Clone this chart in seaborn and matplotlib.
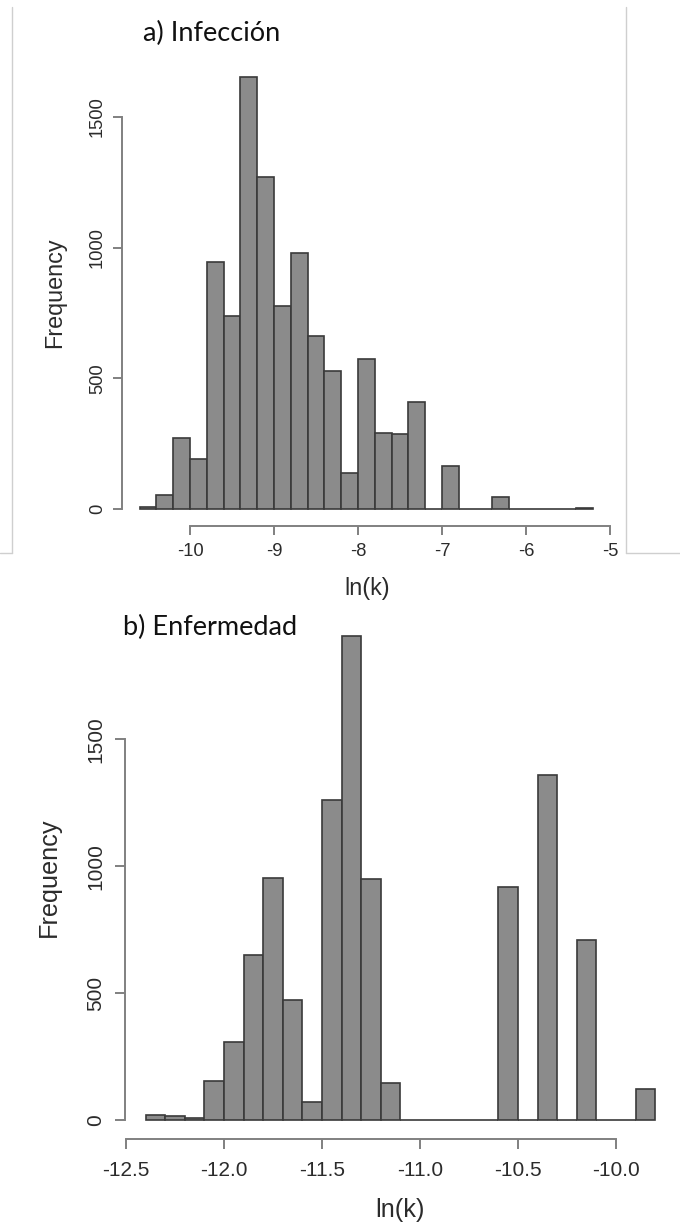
import numpy as np
import pandas as pd
import matplotlib
matplotlib.use("Agg")
import matplotlib.pyplot as plt
from matplotlib.lines import Line2D
import seaborn as sns

# ---- data -------------------------------------------------------------
# a) infection: bins of width 0.2 starting at -10.6
inf_start, inf_width = -10.6, 0.2
inf_counts = [6, 55, 271, 190, 945, 738, 1653, 1270, 776, 981, 661, 529, 139,
              574, 289, 286, 410, 0, 166, 0, 0, 45, 0, 0, 0, 0, 4]

# b) disease: bins of width 0.1 starting at -12.4
enf_start, enf_width = -12.4, 0.1
enf_counts = [18, 14, 8, 152, 309, 649, 954, 471, 73, 1262, 1905, 950, 147,
              0, 0, 0, 0, 0, 918, 0, 1357, 0, 709, 0, 0, 124]

inf_xticks = [-10, -9, -8, -7, -6, -5]
inf_xticklabels = ["-10", "-9", "-8", "-7", "-6", "-5"]
enf_xticks = [-12.5, -12.0, -11.5, -11.0, -10.5, -10.0]
enf_xticklabels = ["-12.5", "-12.0", "-11.5", "-11.0", "-10.5", "-10.0"]
yticks = [0, 500, 1000, 1500]
yticklabels = ["0", "500", "1000", "1500"]

titles = ["a) Infección", "b) Enfermedad"]
xlabel = "ln(k)"
ylabel = "Frequency"

# ---- style ------------------------------------------------------------
sns.set_theme(style="white")
plt.rcParams["font.family"] = ["Liberation Sans", "DejaVu Sans"]

W, H = 680, 1224
fig = plt.figure(figsize=(W / 100, H / 100), dpi=100)
fig.patch.set_facecolor("white")

BAR = "#8b8b8b"
EDGE = "#3a3a3a"
AXC = "#808080"
TXT = "#2b2b2b"


def px_axes(left, right, top, bottom):
    return fig.add_axes([left / W, 1 - bottom / H, (right - left) / W, (bottom - top) / H])


def hist_panel(ax, start, width, counts, xlim, ylim, xticks, xticklabels,
               tick_fs, label_fs, tick_len, xlab_xy, ylab_xy, xpad, ypad):
    n = len(counts)
    edges = [round(start + width * i, 4) for i in range(n + 1)]
    centers = [(a + b) / 2 for a, b in zip(edges[:-1], edges[1:])]
    df = pd.DataFrame({"x": centers, "count": counts})
    sns.histplot(data=df, x="x", weights="count", bins=edges, ax=ax,
                 color=BAR, edgecolor=EDGE, linewidth=1.2, alpha=1)
    ax.set_xlim(*xlim)
    ax.set_ylim(*ylim)
    for s in ("top", "right"):
        ax.spines[s].set_visible(False)
    for s in ("left", "bottom"):
        ax.spines[s].set_color(AXC)
        ax.spines[s].set_linewidth(1.4)
    ax.spines["left"].set_bounds(yticks[0], yticks[-1])
    ax.spines["bottom"].set_bounds(xticks[0], xticks[-1])
    ax.set_xticks(xticks, xticklabels)
    ax.set_yticks(yticks, yticklabels)
    ax.tick_params(axis="both", direction="out", length=tick_len, width=1.4,
                   color=AXC, labelcolor=TXT, labelsize=tick_fs, left=True, bottom=True)
    ax.tick_params(axis="x", pad=xpad)
    ax.tick_params(axis="y", pad=ypad, labelrotation=90)
    for lbl in ax.get_yticklabels():
        lbl.set_va("center")
    ax.set_xlabel(xlabel, fontsize=label_fs, color=TXT)
    ax.set_ylabel(ylabel, fontsize=label_fs, color=TXT)
    ax.xaxis.set_label_coords(xlab_xy[0] / W, 1 - xlab_xy[1] / H, transform=fig.transFigure)
    ax.yaxis.set_label_coords(ylab_xy[0] / W, 1 - ylab_xy[1] / H, transform=fig.transFigure)
    ax.xaxis.label.set_va("center")
    ax.yaxis.label.set_va("center")
    ax.set_facecolor("none")


# top panel
ax1 = px_axes(121.5, 611.3, 59.7, 526.3)
hist_panel(ax1, inf_start, inf_width, inf_counts,
           (-10.816, -4.984), (-66.1, 1718.9), inf_xticks, inf_xticklabels,
           tick_fs=13.2, label_fs=16.8, tick_len=6.2,
           xlab_xy=(367, 588), ylab_xy=(55, 293), xpad=6, ypad=5)

# bottom panel
ax2 = px_axes(125.2, 675.6, 617.0, 1139.4)
hist_panel(ax2, enf_start, enf_width, enf_counts,
           (-12.504, -9.696), (-76.2, 1981.2), enf_xticks, enf_xticklabels,
           tick_fs=15.0, label_fs=18.2, tick_len=7.2,
           xlab_xy=(400, 1210), ylab_xy=(49, 877), xpad=8, ypad=7)

# panel titles
fig.text(143 / W, 1 - 33 / H, titles[0], fontfamily=["Lato", "DejaVu Sans"],
         fontsize=19.5, color="#111111", ha="left", va="center")
fig.text(123 / W, 1 - 627 / H, titles[1], fontfamily=["Lato", "DejaVu Sans"],
         fontsize=19.5, color="#111111", ha="left", va="center")

# thin frame around the upper panel
frame = dict(color="#cfcfcf", linewidth=1.0, transform=fig.transFigure)
fig.add_artist(Line2D([11.5 / W, 11.5 / W], [1 - 7 / H, 1 - 553 / H], **frame))
fig.add_artist(Line2D([0, 11.5 / W], [1 - 553 / H, 1 - 553 / H], **frame))
fig.add_artist(Line2D([626 / W, 626 / W], [1 - 7 / H, 1 - 553 / H], **frame))
fig.add_artist(Line2D([626 / W, 1], [1 - 553 / H, 1 - 553 / H], **frame))

fig.savefig("out.png", dpi=100)
